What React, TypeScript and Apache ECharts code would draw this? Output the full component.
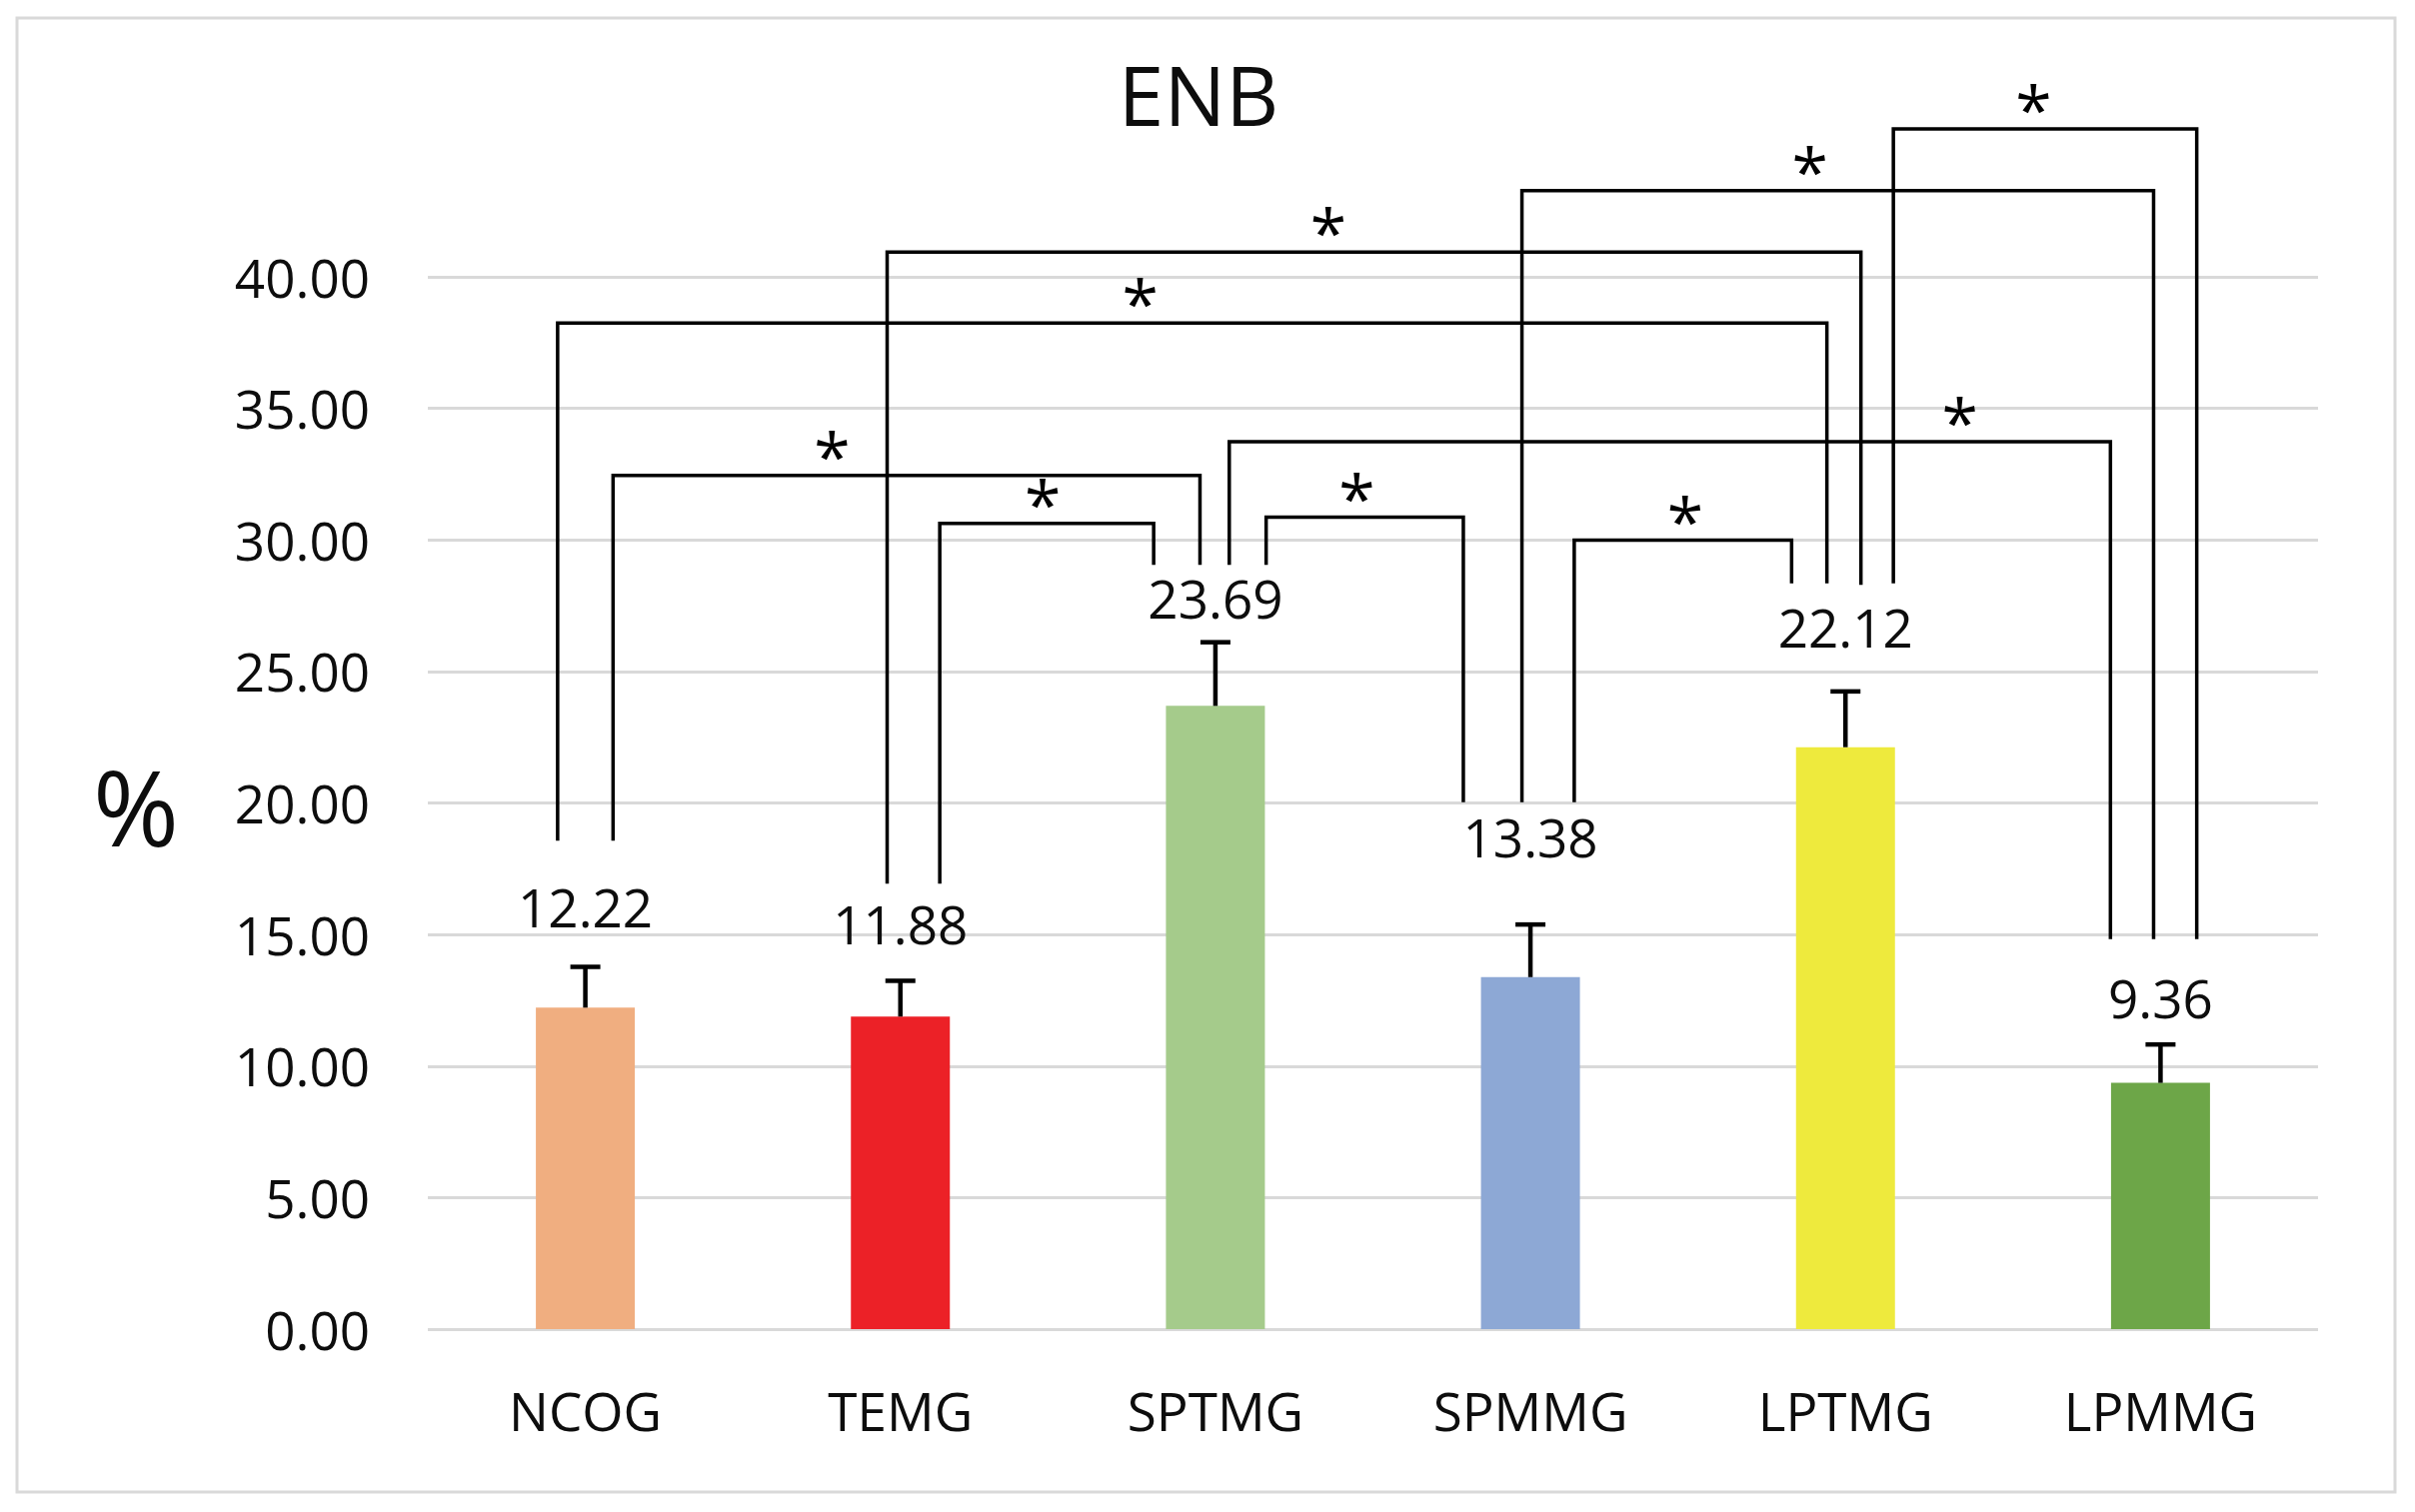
import React, { useEffect, useRef } from "react";
import * as echarts from "echarts";

const categories = ["NCOG", "TEMG", "SPTMG", "SPMMG", "LPTMG", "LPMMG"];
const means = [12.22, 11.88, 23.69, 13.38, 22.12, 9.36];
const errorsUp = [1.55, 1.36, 2.42, 2.0, 2.12, 1.46];
const barColors = ["#F0AE80", "#EC2127", "#A5CB8B", "#8DA8D5", "#EEEA3D", "#6DA648"];
// y value (in % units) at which each value label is centred, as placed in the source
const labelLevels = [16.05, 15.42, 27.8, 18.7, 26.7, 12.6];

const yMin = 0;
const yMax = 40;
const yInterval = 5;

// significance brackets: [leftCategory, rightCategory]
const bracketPairs = [
  [0, 4],
  [0, 2],
  [1, 4],
  [1, 2],
  [2, 5],
  [2, 3],
  [3, 5],
  [3, 4],
  [4, 5],
];
// horizontal bar level of each bracket (% units)
const bracketTops = [38.24, 32.45, 40.94, 30.63, 33.73, 30.86, 43.28, 29.99, 45.62];
// bottom ends of the left and right legs (% units)
const bracketLegEnds = [
  [18.57, 28.35],
  [18.57, 29.05],
  [16.93, 28.29],
  [16.93, 29.05],
  [29.05, 14.82],
  [29.05, 20.03],
  [20.03, 14.82],
  [20.03, 28.35],
  [28.35, 14.82],
];
// leg offsets from the category centre, as a fraction of the category band
const bracketLegOffsets = [
  [-0.088, -0.059],
  [0.088, -0.049],
  [-0.042, 0.049],
  [0.125, -0.196],
  [0.044, -0.159],
  [0.161, -0.213],
  [-0.027, -0.022],
  [0.139, -0.171],
  [0.152, 0.115],
];
// where the star sits along each bracket (0 = left leg, 1 = right leg)
const starPositions = [0.459, 0.373, 0.453, 0.482, 0.829, 0.46, 0.456, 0.51, 0.462];

const FONT = "'Open Sans', 'Noto Sans', sans-serif";
const TEXT = "#0d0d0d";

export default function App() {
  const ref = useRef<HTMLDivElement>(null);

  useEffect(() => {
    document.body.style.margin = "0";
    if (!ref.current) return;
    const chart = echarts.init(ref.current, undefined, { renderer: "svg" });

    const errorData = categories.map((_, i) => [i, means[i], errorsUp[i], labelLevels[i]]);
    const bracketData = bracketPairs.map((p, k) => [
      p[0],
      p[1],
      bracketTops[k],
      bracketLegEnds[k][0],
      bracketLegEnds[k][1],
      bracketLegOffsets[k][0],
      bracketLegOffsets[k][1],
      starPositions[k],
    ]);

    chart.setOption({
      animation: false,
      backgroundColor: "#ffffff",
      textStyle: { fontFamily: FONT },
      grid: { left: 428, right: 97, top: 277, bottom: 183, containLabel: false },
      graphic: [
        {
          type: "rect",
          shape: { x: 17, y: 18, width: 2379, height: 1475 },
          style: { fill: "none", stroke: "#d9d9d9", lineWidth: 3 },
          z: -1,
        },
        {
          type: "text",
          x: 1199,
          y: 94,
          style: {
            text: "ENB",
            fill: TEXT,
            fontSize: 82,
            fontFamily: FONT,
            align: "center",
            verticalAlign: "middle",
          },
        },
        {
          type: "text",
          x: 136,
          y: 806,
          style: {
            text: "%",
            fill: TEXT,
            fontSize: 104,
            fontFamily: FONT,
            align: "center",
            verticalAlign: "middle",
          },
        },
      ],
      xAxis: {
        type: "category",
        data: categories,
        axisLine: { show: false },
        axisTick: { show: false },
        axisLabel: { color: TEXT, fontSize: 53, fontFamily: FONT, margin: 55, lineHeight: 53 },
        splitLine: { show: false },
      },
      yAxis: {
        type: "value",
        min: yMin,
        max: yMax,
        interval: yInterval,
        axisLine: { show: false },
        axisTick: { show: false },
        axisLabel: {
          color: TEXT,
          fontSize: 53,
          fontFamily: FONT,
          margin: 58,
          formatter: (v: number) => v.toFixed(2),
        },
        splitLine: { lineStyle: { color: "#d9d9d9", width: 3 } },
      },
      series: [
        {
          type: "bar",
          barWidth: 99,
          data: means.map((v, i) => ({ value: v, itemStyle: { color: barColors[i] } })),
          z: 2,
        },
        {
          type: "custom",
          clip: false,
          z: 3,
          encode: { x: 0, y: 1 },
          data: errorData,
          renderItem: (params: any, api: any) => {
            const i = api.value(0);
            const v = api.value(1);
            const e = api.value(2);
            const ly = api.value(3);
            const p0 = api.coord([i, v]);
            const p1 = api.coord([i, v + e]);
            const pl = api.coord([i, ly]);
            return {
              type: "group",
              children: [
                {
                  type: "line",
                  shape: { x1: p0[0], y1: p0[1], x2: p1[0], y2: p1[1] },
                  style: { stroke: "#000", lineWidth: 4.5 },
                },
                {
                  type: "line",
                  shape: { x1: p1[0] - 15, y1: p1[1], x2: p1[0] + 15, y2: p1[1] },
                  style: { stroke: "#000", lineWidth: 4.5 },
                },
                {
                  type: "text",
                  x: pl[0],
                  y: pl[1],
                  style: {
                    text: means[i].toFixed(2),
                    fill: TEXT,
                    fontSize: 53,
                    fontFamily: FONT,
                    align: "center",
                    verticalAlign: "middle",
                  },
                },
              ],
            };
          },
        },
        {
          type: "custom",
          clip: false,
          z: 4,
          encode: { x: 0, y: 2 },
          data: bracketData,
          renderItem: (params: any, api: any) => {
            const lc = api.value(0);
            const rc = api.value(1);
            const top = api.value(2);
            const bl = api.value(3);
            const br = api.value(4);
            const lo = api.value(5);
            const ro = api.value(6);
            const sf = api.value(7);
            const band = api.size([1, 0])[0];
            const pLB = api.coord([lc, bl]);
            const pRB = api.coord([rc, br]);
            const pT = api.coord([lc, top]);
            const xl = pLB[0] + lo * band;
            const xr = pRB[0] + ro * band;
            const yt = pT[1];
            const xs = xl + (xr - xl) * sf;
            return {
              type: "group",
              children: [
                {
                  type: "polyline",
                  shape: {
                    points: [
                      [xl, pLB[1]],
                      [xl, yt],
                      [xr, yt],
                      [xr, pRB[1]],
                    ],
                  },
                  style: { stroke: "#000", lineWidth: 3.5, fill: "none" },
                },
                {
                  type: "text",
                  x: xs,
                  y: yt + 12,
                  style: {
                    text: "*",
                    fill: "#000",
                    fontSize: 66,
                    fontFamily: FONT,
                    align: "center",
                    verticalAlign: "bottom",
                  },
                },
              ],
            };
          },
        },
      ],
    });

    return () => {
      chart.dispose();
    };
  }, []);

  return <div ref={ref} style={{ width: 2416, height: 1513 }} />;
}
